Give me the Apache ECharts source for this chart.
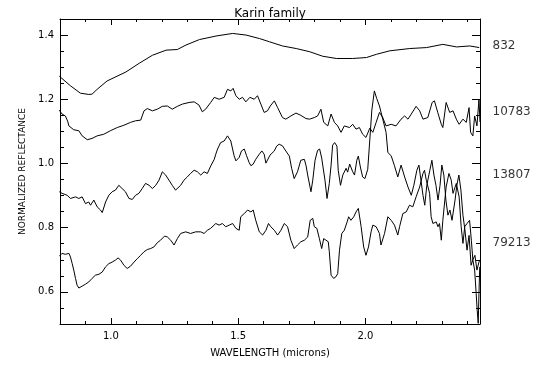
<!DOCTYPE html>
<html>
<head>
<meta charset="utf-8">
<script src="https://cdn.jsdelivr.net/npm/echarts@6/dist/echarts.min.js"></script>
<style>html,body{margin:0;padding:0;background:#fff}#c{width:540px;height:365px}</style>
</head>
<body>
<div id="c"></div>
<script>
var titleText = 'Karin family';
var xName = 'WAVELENGTH (microns)';
var yName = 'NORMALIZED REFLECTANCE';
var xLabelVals = [1.0, 1.5, 2.0];
var yLabelVals = [0.6, 0.8, 1.0, 1.2, 1.4];
var names = ['832', '10783', '13807', '79213'];
var labelY = [1.366, 1.161, 0.964, 0.754];

var wl832 = [0.797,0.841,0.880,0.913,0.926,0.946,0.985,1.059,1.111,1.163,1.217,1.261,1.295,1.348,1.413,1.478,1.531,1.584,1.623,1.674,1.728,1.781,1.832,1.886,1.950,2.004,2.043,2.096,2.174,2.240,2.304,2.358,2.410,2.447];
var r832 = [1.272,1.242,1.219,1.215,1.216,1.231,1.257,1.285,1.312,1.337,1.353,1.355,1.369,1.386,1.397,1.405,1.400,1.389,1.379,1.366,1.358,1.348,1.334,1.327,1.327,1.330,1.340,1.351,1.358,1.361,1.371,1.363,1.366,1.361];

var wl10783 = [0.797,0.808,0.821,0.830,0.835,0.854,0.874,0.887,0.907,0.926,
0.946,0.972,0.998,1.025,1.051,1.077,1.097,1.117,1.130,1.143,
1.163,1.182,1.202,1.222,1.241,1.261,1.281,1.307,1.327,1.346,
1.359,1.372,1.392,1.406,1.425,1.445,1.458,1.471,1.480,1.491,
1.504,1.517,1.530,1.546,1.563,1.576,1.589,1.602,1.615,1.626,
1.642,1.655,1.674,1.687,1.707,1.727,1.746,1.766,1.780,1.799,
1.812,1.825,1.836,1.852,1.865,1.878,1.891,1.904,1.917,1.937,
1.950,1.963,1.976,1.989,2.002,2.017,2.029,2.042,2.055,2.068,
2.081,2.101,2.120,2.140,2.154,2.167,2.180,2.199,2.213,2.226,
2.245,2.262,2.271,2.284,2.298,2.304,2.317,2.331,2.344,2.357,
2.368,2.383,2.396,2.407,2.413,2.422,2.429,2.438,2.446,2.450];
var r10783 = [1.166,1.154,1.148,1.132,1.117,1.105,1.102,1.086,1.074,1.078,
1.086,1.091,1.102,1.112,1.119,1.128,1.133,1.135,1.164,1.171,
1.164,1.169,1.178,1.179,1.169,1.178,1.185,1.190,1.192,1.182,
1.161,1.169,1.190,1.206,1.200,1.206,1.231,1.226,1.234,1.211,
1.200,1.206,1.192,1.206,1.200,1.211,1.185,1.159,1.164,1.179,
1.195,1.174,1.143,1.138,1.148,1.157,1.150,1.140,1.138,1.143,
1.148,1.169,1.128,1.117,1.154,1.128,1.117,1.097,1.117,1.112,
1.122,1.107,1.112,1.091,1.081,1.110,1.097,1.128,1.159,1.143,
1.117,1.122,1.117,1.138,1.148,1.138,1.154,1.178,1.164,1.138,
1.143,1.190,1.195,1.159,1.122,1.112,1.190,1.159,1.164,1.138,
1.122,1.138,1.128,1.174,1.097,1.086,1.148,1.117,1.200,1.129];

var wl13807 = [0.797,0.808,0.828,0.841,0.861,0.874,0.887,0.900,0.913,0.920,
0.933,0.946,0.959,0.966,0.979,0.992,1.005,1.018,1.031,1.044,
1.057,1.071,1.084,1.097,1.110,1.123,1.136,1.150,1.163,1.176,
1.189,1.202,1.215,1.228,1.241,1.254,1.261,1.274,1.287,1.300,
1.313,1.327,1.340,1.353,1.366,1.379,1.392,1.406,1.412,1.419,
1.431,1.445,1.458,1.465,1.471,1.478,1.484,1.491,1.497,1.504,
1.513,1.524,1.533,1.543,1.550,1.559,1.569,1.583,1.593,1.602,
1.609,1.615,1.625,1.642,1.651,1.661,1.674,1.687,1.701,1.710,
1.720,1.733,1.746,1.760,1.767,1.773,1.786,1.793,1.802,1.812,
1.820,1.828,1.841,1.849,1.858,1.865,1.871,1.879,1.888,1.893,
1.902,1.911,1.924,1.930,1.938,1.950,1.957,1.966,1.972,1.980,
1.989,1.998,2.009,2.017,2.025,2.035,2.044,2.055,2.068,2.081,
2.088,2.101,2.114,2.127,2.140,2.154,2.167,2.180,2.190,2.202,
2.210,2.218,2.226,2.233,2.241,2.253,2.261,2.269,2.277,2.285,
2.293,2.300,2.308,2.316,2.324,2.332,2.340,2.352,2.359,2.367,
2.375,2.383,2.391,2.399,2.407,2.415,2.422,2.430,2.438,2.446,
2.450];
var r13807 = [0.912,0.907,0.901,0.891,0.896,0.891,0.896,0.875,0.880,0.870,
0.886,0.865,0.855,0.847,0.880,0.901,0.912,0.917,0.932,0.922,
0.912,0.891,0.888,0.901,0.907,0.922,0.938,0.932,0.922,0.932,
0.948,0.974,0.964,0.948,0.932,0.917,0.912,0.932,0.948,0.958,
0.969,0.979,0.974,0.964,0.974,0.969,0.992,1.013,1.029,1.045,
1.065,1.070,1.086,1.081,1.070,1.045,1.024,1.008,1.003,1.019,
1.039,1.045,1.024,1.003,0.993,0.998,1.013,1.029,1.039,1.029,
1.001,1.001,1.026,1.039,1.054,1.060,1.055,1.039,1.023,0.985,
0.953,0.974,1.010,1.013,0.992,0.964,0.912,0.948,1.010,1.041,
1.045,1.017,0.948,0.891,0.938,0.995,1.057,1.065,1.054,0.979,
0.932,0.964,0.985,0.973,0.998,0.974,0.964,1.010,1.023,0.989,
0.958,0.953,0.982,1.073,1.166,1.226,1.203,1.179,1.138,1.097,
1.034,1.024,0.993,0.958,0.995,0.958,0.927,0.901,0.932,0.979,
0.995,0.948,0.901,0.870,0.932,0.979,1.010,0.964,0.932,0.886,
0.932,0.995,0.964,0.886,0.839,0.855,0.823,0.886,0.932,0.964,
0.917,0.839,0.792,0.730,0.776,0.683,0.700,0.714,0.668,0.693,
0.700];

var wl79213 = [0.797,0.808,0.821,0.835,0.841,0.848,0.854,0.861,0.867,0.874,
0.887,0.900,0.913,0.926,0.939,0.953,0.966,0.979,0.992,1.005,
1.018,1.028,1.038,1.051,1.064,1.077,1.091,1.104,1.117,1.130,
1.143,1.156,1.169,1.182,1.195,1.211,1.222,1.235,1.248,1.261,
1.274,1.294,1.313,1.333,1.353,1.366,1.379,1.392,1.412,1.425,
1.438,1.451,1.465,1.478,1.491,1.504,1.510,1.524,1.537,1.550,
1.559,1.569,1.583,1.596,1.609,1.619,1.628,1.642,1.655,1.668,
1.681,1.694,1.707,1.720,1.733,1.746,1.760,1.773,1.783,1.793,
1.799,1.809,1.819,1.828,1.836,1.845,1.854,1.858,1.865,1.875,
1.884,1.891,1.898,1.907,1.917,1.928,1.934,1.943,1.954,1.963,
1.972,1.983,1.993,2.002,2.012,2.022,2.029,2.042,2.055,2.061,
2.075,2.088,2.101,2.114,2.127,2.134,2.147,2.160,2.173,2.186,
2.199,2.213,2.226,2.232,2.239,2.252,2.258,2.265,2.278,2.285,
2.291,2.298,2.304,2.317,2.328,2.337,2.344,2.357,2.368,2.376,
2.383,2.390,2.399,2.409,2.416,2.422,2.429,2.435,2.439,2.443,
2.446,2.449];
var r79213 = [0.711,0.720,0.717,0.720,0.709,0.688,0.668,0.642,0.621,0.612,
0.618,0.624,0.631,0.642,0.652,0.655,0.662,0.678,0.688,0.693,
0.699,0.706,0.699,0.683,0.673,0.680,0.693,0.704,0.714,0.725,
0.732,0.735,0.740,0.753,0.761,0.774,0.771,0.761,0.746,0.766,
0.782,0.787,0.782,0.787,0.787,0.782,0.792,0.798,0.813,0.808,
0.813,0.803,0.808,0.813,0.798,0.792,0.834,0.844,0.855,0.849,
0.855,0.823,0.787,0.777,0.792,0.813,0.803,0.792,0.777,0.792,
0.813,0.803,0.761,0.735,0.746,0.756,0.761,0.771,0.823,0.829,
0.803,0.798,0.766,0.735,0.766,0.761,0.756,0.725,0.652,0.642,
0.647,0.657,0.730,0.782,0.792,0.818,0.834,0.823,0.834,0.849,
0.860,0.803,0.740,0.714,0.740,0.787,0.808,0.803,0.782,0.746,
0.782,0.834,0.823,0.808,0.777,0.803,0.844,0.849,0.870,0.865,
0.896,0.927,0.969,0.979,0.948,0.907,0.834,0.813,0.818,0.803,
0.813,0.761,0.823,0.927,0.969,0.948,0.907,0.938,0.896,0.803,
0.751,0.803,0.813,0.823,0.761,0.699,0.668,0.595,0.543,0.502,
0.595,0.678];

function zip(a, b) {
  var n = Math.min(a.length, b.length), out = [];
  for (var i = 0; i < n; i++) out.push([a[i], b[i]]);
  return out;
}

var FONT = 'DejaVu Sans';
var XMIN = 0.8, XMAX = 2.45, YMIN = 0.5, YMAX = 1.45;

function xAx(pos, major, showLabel) {
  var o = {
    type: 'value', min: XMIN, max: XMAX, interval: 0.1, position: pos,
    axisLine: { show: !major, onZero: false, lineStyle: { color: '#000', width: 1 } },
    axisTick: { show: true, inside: true, length: major ? 6 : 3, lineStyle: { color: '#000' } },
    axisLabel: { show: false },
    splitLine: { show: false }
  };
  if (major) o.axisTick.customValues = xLabelVals;
  if (showLabel) {
    o.axisLabel = { show: true, customValues: xLabelVals, color: '#000', fontFamily: FONT, fontSize: 10, margin: 7,
      formatter: function (v) { return v.toFixed(1); } };
    o.name = xName; o.nameLocation = 'middle'; o.nameGap = 24;
    o.nameTextStyle = { color: '#000', fontFamily: FONT, fontSize: 10 };
  }
  return o;
}
function yAx(pos, major, showLabel) {
  var o = {
    type: 'value', min: YMIN, max: YMAX, interval: 0.05, position: pos,
    axisLine: { show: !major, onZero: false, lineStyle: { color: '#000', width: 1 } },
    axisTick: { show: true, inside: true, length: major ? 8 : 4, lineStyle: { color: '#000' } },
    axisLabel: { show: false },
    splitLine: { show: false }
  };
  if (major) o.axisTick.customValues = yLabelVals;
  if (showLabel) {
    o.axisLabel = { show: true, customValues: yLabelVals, color: '#000', fontFamily: FONT, fontSize: 10, margin: 6,
      formatter: function (v) { return v.toFixed(1); } };
    o.name = yName; o.nameLocation = 'middle'; o.nameGap = 30; o.nameRotate = 90;
    o.nameTextStyle = { color: '#000', fontFamily: FONT, fontSize: 9 };
  }
  return o;
}

var curves = [[wl832, r832], [wl10783, r10783], [wl13807, r13807], [wl79213, r79213]];
var series = curves.map(function (c, i) {
  return {
    type: 'line', name: names[i], data: zip(c[0], c[1]), xAxisIndex: 0, yAxisIndex: 0,
    showSymbol: false, symbol: 'none', smooth: false, animation: false, clip: true,
    lineStyle: { color: '#000', width: 1 }
  };
});
series.push({
  type: 'scatter', xAxisIndex: 0, yAxisIndex: 0, symbolSize: 1, clip: false, animation: false,
  itemStyle: { color: 'rgba(0,0,0,0)' },
  data: names.map(function (n, i) { return { name: n, value: [XMAX, labelY[i]] }; }),
  label: { show: true, position: 'right', distance: 12, color: '#000', fontFamily: FONT, fontSize: 12,
    formatter: function (p) { return p.name; } }
});

var chart = echarts.init(document.getElementById('c'), null, { renderer: 'canvas' });
chart.setOption({
  animation: false,
  backgroundColor: '#fff',
  title: { text: titleText, left: 'center', top: 3, textStyle: { color: '#000', fontFamily: FONT, fontSize: 12, fontWeight: 'normal' } },
  grid: { left: 60, right: 60, top: 19, bottom: 41, containLabel: false },
  xAxis: [xAx('bottom', false, true), xAx('bottom', true, false), xAx('top', false, false), xAx('top', true, false)],
  yAxis: [yAx('left', false, true), yAx('left', true, false), yAx('right', false, false), yAx('right', true, false)],
  series: series
});
</script>
</body>
</html>
